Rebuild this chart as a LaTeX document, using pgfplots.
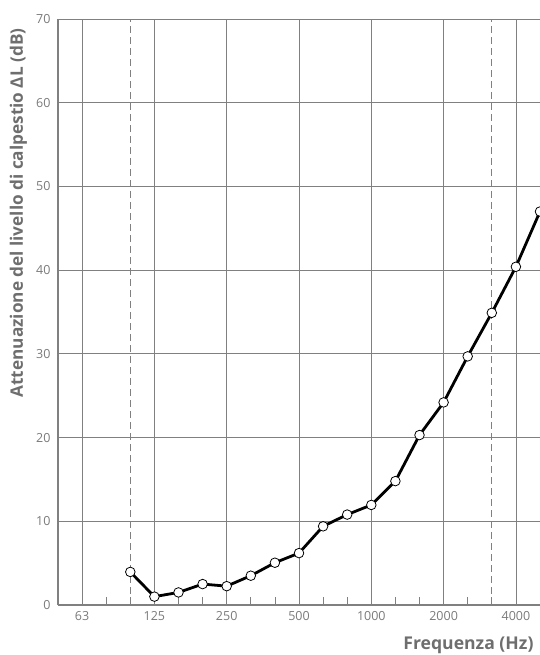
\documentclass[border=0pt]{standalone}
\usepackage{pgfplots}
\pgfplotsset{compat=1.18}
\usepackage{fontspec}
\setmainfont{Open Sans}
\definecolor{gridc}{HTML}{808080}
\definecolor{tickc}{HTML}{7A7A7A}
\definecolor{labc}{HTML}{6E6E6E}
\begin{document}
\begin{tikzpicture}
\begin{axis}[
  scale only axis, width=482pt, height=586pt,
  xmin=0, xmax=20, ymin=0, ymax=70,
  axis x line*=bottom, axis y line*=left,
  axis line style={gridc, line width=1.2pt, -},
  xtick={1,4,7,10,13,16,19},
  xticklabels={63,125,250,500,1000,2000,4000},
  minor xtick={2,3,5,6,8,9,11,12,14,15,17,18},
  ytick={0,10,...,70},
  grid=major,
  major grid style={gridc, line width=0.8pt},
  major tick length=0pt,
  minor tick length=8pt,
  tick align=inside,
  minor tick style={gridc, line width=0.8pt},
  /pgf/number format/assume math mode=true,
  tick label style={font=\fontsize{12.5}{14}\selectfont, text=tickc},
  yticklabel style={xshift=-4pt},
  xticklabel style={yshift=-3pt},
  ylabel={Attenuazione del livello di calpestio ΔL (dB)},
  ylabel style={at={(axis description cs:-0.082,0.669)}, anchor=center, font=\fontsize{17.2}{19}\selectfont\bfseries, text=labc},
  xlabel={Frequenza (Hz)},
  xlabel style={at={(axis description cs:0.9938,-0.0683)}, anchor=east, font=\fontsize{17.6}{19}\selectfont\bfseries, text=labc},
]
\addplot[gridc, line width=0.8pt, dash pattern=on 7pt off 4pt] coordinates {(3,0) (3,70)};
\addplot[gridc, line width=0.8pt, dash pattern=on 7pt off 4pt] coordinates {(18,0) (18,70)};
\addplot[black, line width=2.8pt, mark=*, mark size=4.8pt,
  mark options={fill=white, draw=black, line width=0.8pt, solid}] coordinates {
  (3,3.95) (4,1.0) (5,1.5) (6,2.5) (7,2.25) (8,3.5) (9,5.05) (10,6.2)
  (11,9.4) (12,10.8) (13,11.95) (14,14.8) (15,20.3) (16,24.2) (17,29.7)
  (18,34.9) (19,40.4) (20,47.0)
};
\end{axis}
\pgfresetboundingbox
\path[use as bounding box] (-58pt,-50pt) rectangle (482pt,605pt);
\end{tikzpicture}
\end{document}
